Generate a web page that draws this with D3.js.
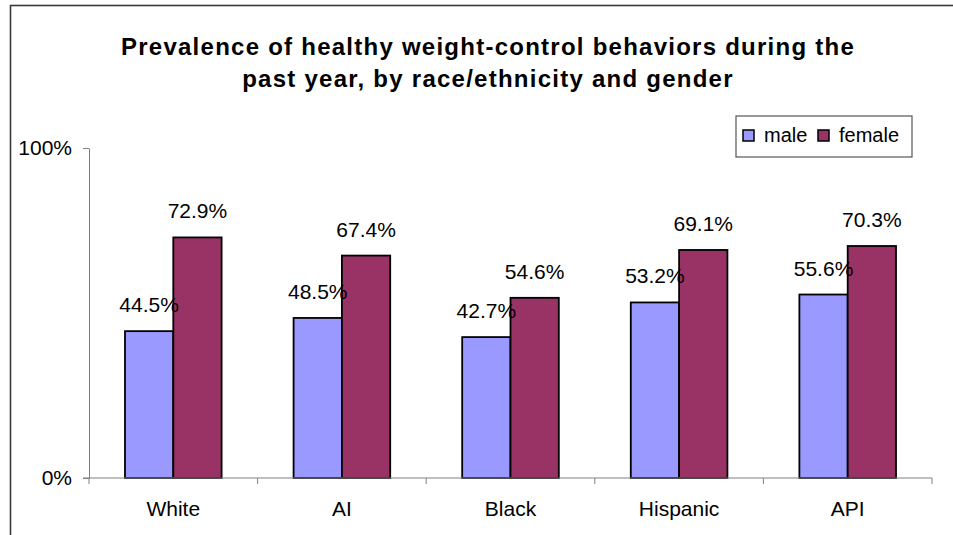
<!DOCTYPE html>
<html>
<head>
<meta charset="utf-8">
<script src="https://cdn.jsdelivr.net/npm/d3@7/dist/d3.min.js"></script>
<style>
  html, body { margin: 0; padding: 0; background: #ffffff; }
  svg { display: block; }
  text { font-family: "Liberation Sans", Arial, sans-serif; fill: #000; }
</style>
</head>
<body>
<svg id="chart" width="953" height="535"></svg>
<script>
// Prevalence of healthy weight-control behaviours (%), by group and gender
const categories = ["White", "AI", "Black", "Hispanic", "API"];
const seriesNames = ["male", "female"];
const maleValues = [44.5, 48.5, 42.7, 53.2, 55.6];
const femaleValues = [72.9, 67.4, 54.6, 69.1, 70.3];
const yTickValues = [0, 100];
const yTickLabels = ["0%", "100%"];
const titleLines = [
  "Prevalence of healthy weight-control behaviors during the",
  "past year, by race/ethnicity and gender"
];

const colors = { male: "#9999ff", female: "#993366" };
const seriesValues = { male: maleValues, female: femaleValues };

const svg = d3.select("#chart");

// outer chart frame (runs past the right and bottom edges)
svg.append("rect")
  .attr("x", 10.5).attr("y", 5.5)
  .attr("width", 1000).attr("height", 600)
  .attr("fill", "none")
  .attr("stroke", "#3a3a3a")
  .attr("stroke-width", 1.6);

const plot = { left: 89, right: 932, top: 148, bottom: 478 };

const x = d3.scaleBand()
  .domain(categories)
  .range([plot.left, plot.right])
  .padding(0);

const xInner = d3.scaleBand()
  .domain(seriesNames)
  .range([0, x.bandwidth()])
  .paddingInner(0)
  .paddingOuter(0.745);

const y = d3.scaleLinear()
  .domain([0, 100])
  .range([plot.bottom, plot.top]);

// title
svg.append("g")
  .selectAll("text")
  .data(titleLines)
  .join("text")
  .attr("x", 488)
  .attr("y", (d, i) => 55 + i * 32)
  .attr("text-anchor", "middle")
  .attr("font-size", 24)
  .attr("font-weight", "bold")
  .attr("letter-spacing", 1.25)
  .text(d => d);

// bars
const groups = svg.append("g")
  .selectAll("g")
  .data(categories)
  .join("g")
  .attr("transform", d => `translate(${x(d)},0)`);

const barData = (c, i) => seriesNames.map(s => ({ series: s, value: seriesValues[s][i] }));

groups.selectAll("rect")
  .data(barData)
  .join("rect")
  .attr("x", d => xInner(d.series))
  .attr("y", d => y(d.value))
  .attr("width", xInner.bandwidth())
  .attr("height", d => y(0) - y(d.value))
  .attr("fill", d => colors[d.series])
  .attr("stroke", "#000")
  .attr("stroke-width", 1.8);

// value labels
groups.selectAll("text.val")
  .data(barData)
  .join("text")
  .attr("class", "val")
  .attr("x", d => xInner(d.series) + xInner.bandwidth() / 2)
  .attr("y", d => y(d.value) - 19)
  .attr("text-anchor", "middle")
  .attr("font-size", 21)
  .text(d => d.value.toFixed(1) + "%");

// y axis
const yAxis = svg.append("g")
  .attr("transform", `translate(${plot.left},0)`)
  .call(d3.axisLeft(y)
    .tickValues(yTickValues)
    .tickFormat((d, i) => yTickLabels[i])
    .tickSize(6)
    .tickSizeOuter(0)
    .tickPadding(11));
yAxis.select(".domain").attr("stroke", "#808080");
yAxis.selectAll(".tick line").attr("stroke", "#808080");
yAxis.selectAll(".tick text")
  .attr("font-size", 21)
  .attr("font-family", "Liberation Sans, Arial, sans-serif")
  .attr("fill", "#000");

// x axis baseline with category boundary ticks
const xAxis = svg.append("g");
xAxis.append("line")
  .attr("x1", plot.left - 6).attr("x2", plot.right)
  .attr("y1", y(0)).attr("y2", y(0))
  .attr("stroke", "#808080");
const boundaries = categories.map(c => x(c)).concat([x(categories[categories.length - 1]) + x.bandwidth()]);
xAxis.selectAll("line.bt")
  .data(boundaries)
  .join("line")
  .attr("class", "bt")
  .attr("x1", d => d).attr("x2", d => d)
  .attr("y1", y(0)).attr("y2", y(0) + 6)
  .attr("stroke", "#808080");
xAxis.selectAll("text")
  .data(categories)
  .join("text")
  .attr("x", d => x(d) + x.bandwidth() / 2)
  .attr("y", y(0) + 38)
  .attr("text-anchor", "middle")
  .attr("font-size", 21)
  .text(d => d);

// legend
const legend = svg.append("g");
legend.append("rect")
  .attr("x", 736).attr("y", 116)
  .attr("width", 176).attr("height", 41)
  .attr("fill", "#fff")
  .attr("stroke", "#555")
  .attr("stroke-width", 1.2);
const legendX = [743, 818];
const items = legend.selectAll("g")
  .data(seriesNames)
  .join("g")
  .attr("transform", (d, i) => `translate(${legendX[i]},130)`);
items.append("rect")
  .attr("width", 11).attr("height", 11)
  .attr("fill", d => colors[d])
  .attr("stroke", "#000")
  .attr("stroke-width", 1.5);
items.append("text")
  .attr("x", 21).attr("y", 12)
  .attr("font-size", 20)
  .text(d => d);
</script>
</body>
</html>
